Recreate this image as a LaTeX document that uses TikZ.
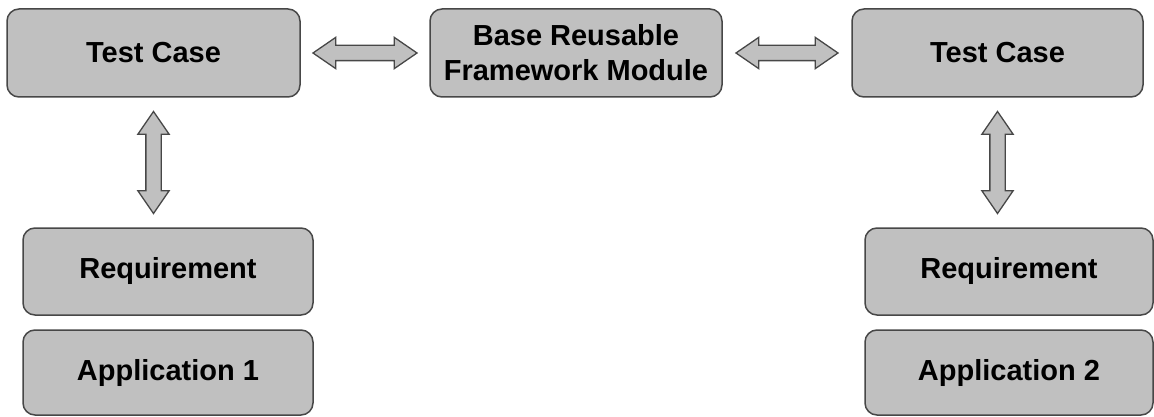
\documentclass[tikz,border=0pt]{standalone}
\usepackage{fontspec}
\setmainfont{Liberation Sans}
\usetikzlibrary{shapes.arrows,calc}
\definecolor{boxfill}{HTML}{C0C0C0}
\definecolor{boxline}{HTML}{474747}
\tikzset{
  box/.style={draw=boxline, fill=boxfill, line width=1.5pt, rounded corners=12pt,
    minimum height=88pt, inner sep=0pt, align=center,
    font=\fontsize{29}{35}\selectfont\bfseries},
  dbl/.style={double arrow, draw=boxline, fill=boxfill, line width=1.3pt,
    inner xsep=0pt, inner ysep=7pt, minimum width=30pt,
    double arrow head extend=8pt, double arrow tip angle=69}
}
\begin{document}
\begin{tikzpicture}[x=1pt,y=1pt]
\useasboundingbox (0,0) rectangle (1154,-417);
\node[box, minimum width=293pt] (tc1) at (153.5,-53) {Test Case};
\node[box, minimum width=292pt] (mid) at (576,-53) {Base Reusable\\Framework Module};
\node[box, minimum width=291pt] (tc2) at (997.5,-53) {Test Case};
\node[box, minimum width=290pt, minimum height=87pt] (req1) at (168,-271.5) {Requirement};
\node[box, minimum width=290pt, minimum height=85pt] (app1) at (168,-372.5) {Application 1};
\node[box, minimum width=288pt, minimum height=87pt] (req2) at (1009,-271.5) {Requirement};
\node[box, minimum width=288pt, minimum height=85pt] (app2) at (1009,-372.5) {Application 2};
\node[dbl, minimum height=104pt] (h1) at ($(tc1.east)!0.5!(mid.west)$) {};
\node[dbl, minimum height=102pt] (h2) at ($(mid.east)!0.5!(tc2.west)$) {};
\node[dbl, minimum height=102pt, rotate=90] (v1) at ($(tc1.south)!0.5!(tc1.south|-req1.north)$) {};
\node[dbl, minimum height=102pt, rotate=90] (v2) at ($(tc2.south)!0.5!(tc2.south|-req2.north)$) {};
\end{tikzpicture}
\end{document}
